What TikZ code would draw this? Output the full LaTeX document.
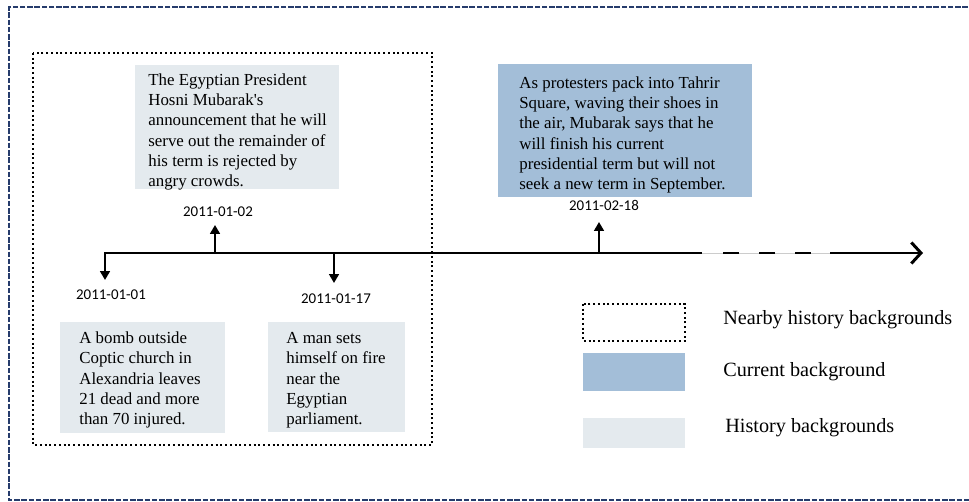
\documentclass[tikz,border=0pt]{standalone}
\usepackage{fontspec}
\setmainfont{Liberation Serif}
\newfontfamily\datefont{Carlito}
\usetikzlibrary{arrows.meta}

\definecolor{framenavy}{RGB}{38,60,108}
\definecolor{currentblue}{RGB}{163,190,216}
\definecolor{historygray}{RGB}{228,234,238}

\tikzset{
  event/.style={anchor=base west,align=left,inner sep=0pt,
    font=\fontsize{9.6}{11.6}\selectfont},
  date/.style={anchor=base,inner sep=0pt,font=\datefont\fontsize{8.5}{10}\selectfont},
  legendtext/.style={anchor=base west,inner sep=0pt,font=\fontsize{11.5}{13}\selectfont},
  tick/.style={line width=1.1pt,-{Triangle[length=5pt,width=5.5pt]}},
  nearby/.style={line width=1.1pt,dash pattern=on 0.04cm off 0.055cm},
}

\begin{document}
\begin{tikzpicture}[x=0.02cm,y=-0.02cm]
        \useasboundingbox (0,0) rectangle (969,502);

        % Frames
        \draw [framenavy,line width=1.2pt,dash pattern=on 0.11cm off 0.035cm]
            (975,7) -- (9,7) -- (9,500) -- (975,500);
        \draw [nearby] (33,53) rectangle (432,445);

        % Backgrounds
        \path [fill=historygray] (135,65) rectangle (339,189);
        \path [fill=currentblue] (498,64) rectangle (752,197);
        \path [fill=historygray] (60,322) rectangle (225,433);
        \path [fill=historygray] (268,322) rectangle (405,432);

        % Events (placed by the baseline of their last line)
        \node [event] (jan02) at (148,187) {The Egyptian President\\
            Hosni Mubarak\textquotesingle s\\ announcement that he will\\
            serve out the remainder of\\ his term is rejected by\\ angry crowds.};
        \node [event] (feb18) at (519,190) {As protesters pack into Tahrir\\
            Square, waving their shoes in\\ the air, Mubarak says that he\\
            will finish his current\\ presidential term but will not\\
            seek a new term in September.};
        \node [event] (jan01) at (79,425) {A bomb outside\\ Coptic church in\\
            Alexandria leaves\\ 21 dead and more\\ than 70 injured.};
        \node [event] (jan17) at (286,425) {A man sets\\ himself on fire\\
            near the\\ Egyptian\\ parliament.};

        % Timeline
        \coordinate (start) at (104,253);
        \coordinate (gapA) at (702,253);
        \coordinate (gapB) at (723,253);
        \coordinate (gapC) at (830,253);
        \coordinate (end) at (923,253);
        \draw [line width=1.7pt] (start) -- (gapA);
        \draw [gray!40,line width=0.5pt] (gapA) -- (gapC);
        \draw [line width=1.7pt,dash pattern=on 0.32cm off 0.4cm] (gapB) -- (gapC);
        \draw [line width=1.7pt,-{Straight Barb[length=5.5pt,width=12pt]}] (gapC) -- (end);

        % Dates
        \node [date] (d0101) at (111,300) {2011-01-01};
        \node [date] (d0102) at (218,217) {2011-01-02};
        \node [date] (d0117) at (336,304) {2011-01-17};
        \node [date] (d0218) at (604,211) {2011-02-18};

        \coordinate (t0101) at (105,253);
        \coordinate (t0102) at (215,253);
        \coordinate (t0117) at (334,253);
        \coordinate (t0218) at (599,253);
        \coordinate (e0101) at (105,280);
        \coordinate (e0102) at (215,225);
        \coordinate (e0117) at (334,283);
        \coordinate (e0218) at (599,222);
        \draw [tick] (t0101) -- (e0101);
        \draw [tick] (t0102) -- (e0102);
        \draw [tick] (t0117) -- (e0117);
        \draw [tick] (t0218) -- (e0218);

        % Legend
        \draw [nearby] (583,304) rectangle (685,341);
        \path [fill=currentblue] (583,353) rectangle (685,391);
        \path [fill=historygray] (583,418) rectangle (685,448);
        \node [legendtext] (lnearby) at (723,325) {Nearby history backgrounds};
        \node [legendtext] (lcurrent) at (723,377) {Current background};
        \node [legendtext] (lhistory) at (725,433) {History backgrounds};
    \end{tikzpicture}
\end{document}
